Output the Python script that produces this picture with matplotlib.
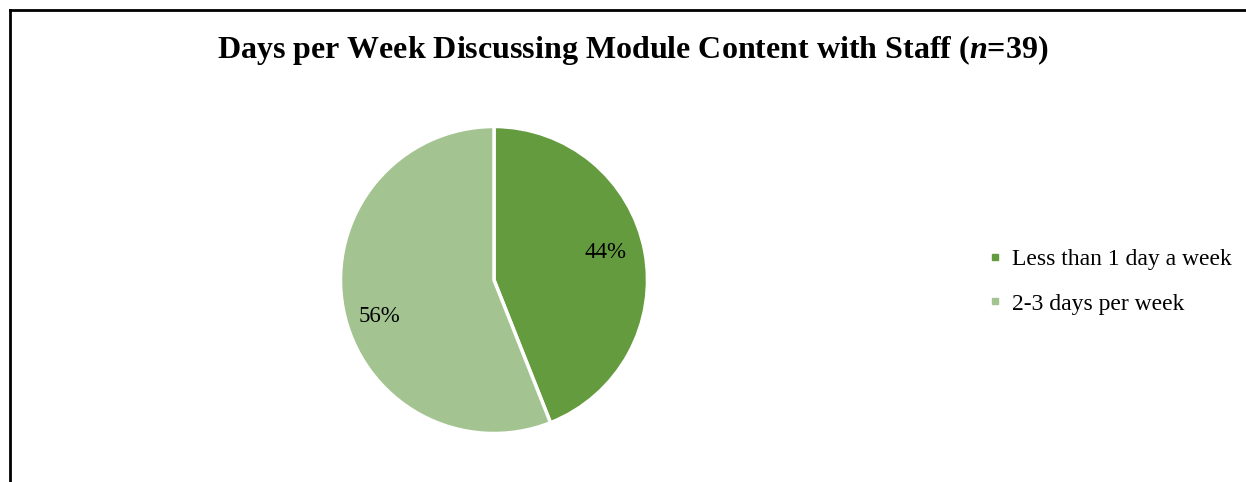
import matplotlib
matplotlib.use("Agg")
import matplotlib.pyplot as plt
from matplotlib.lines import Line2D

plt.rcParams['font.family'] = ['Liberation Serif', 'DejaVu Serif']
plt.rcParams['mathtext.fontset'] = 'custom'
plt.rcParams['mathtext.it'] = 'Liberation Serif:italic:bold'
plt.rcParams['mathtext.rm'] = 'Liberation Serif:bold'

categories = ["Less than 1 day a week", "2-3 days per week"]
shares = [44, 56]
colors = ["#639b3e", "#a3c491"]

W, H = 1246, 482
fig = plt.figure(figsize=(W / 100, H / 100), dpi=100)

# pie area: centre (494, 280), radius ~153 px
cx, cy, r = 494, 280, 153.5
ax = fig.add_axes([(cx - r) / W, (H - cy - r) / H, 2 * r / W, 2 * r / H])
wedges, texts, autotexts = ax.pie(
    shares, colors=colors, startangle=90, counterclock=False,
    autopct=lambda p: f"{p:.0f}%", pctdistance=0.75,
    wedgeprops=dict(edgecolor="white", linewidth=2.5),
    textprops=dict(fontsize=16.5, color="black"))
ax.set_xlim(-1, 1)
ax.set_ylim(-1, 1)
ax.set_aspect("auto")

# nudge the percentage labels a little off the mid-angle line
for t, dy in zip(autotexts, [0.04, -0.1]):
    x, y = t.get_position()
    t.set_position((x - 0.01, y + dy))

fig.text(633 / W, 1 - 50 / H,
         "Days per Week Discussing Module Content with Staff ($n$=39)",
         ha="center", va="center", fontsize=23, fontweight="bold")

handles = [Line2D([], [], marker="s", linestyle="none", markersize=5,
                  markerfacecolor=c, markeredgecolor=c) for c in colors]
fig.legend(handles, categories, loc="center left",
           bbox_to_anchor=(969 / W, 1 - 281.5 / H), frameon=False,
           fontsize=17, handlelength=0.4, handletextpad=0.5,
           labelspacing=0.98)

# chart frame (top and left edges)
fig.add_artist(Line2D([10 / W, 10 / W], [0, 1 - 10 / H], color="black",
                      linewidth=2, transform=fig.transFigure))
fig.add_artist(Line2D([10 / W, 1], [1 - 10 / H, 1 - 10 / H], color="black",
                      linewidth=2, transform=fig.transFigure))

fig.savefig("out.png", dpi=100)
